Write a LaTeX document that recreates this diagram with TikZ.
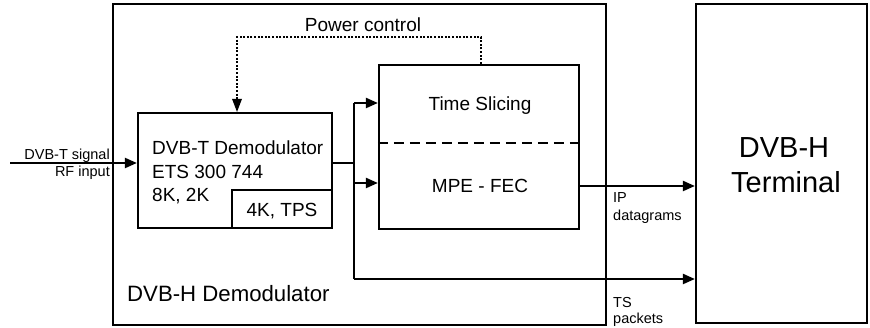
\documentclass[tikz,border=0pt]{standalone}
\usepackage{fontspec}
\setmainfont{Liberation Sans}
\usetikzlibrary{arrows.meta,calc}
\begin{document}
\begin{tikzpicture}[x=1pt,y=-1pt,
  box/.style={draw,line width=2.2pt,inner sep=0pt,minimum width=#1},
  txt/.style={inner sep=0pt,anchor=base west,font=\fontsize{19}{22}\selectfont},
  lbl/.style={inner sep=0pt,anchor=base west,font=\fontsize{22.2}{26}\selectfont},
  small/.style={inner sep=0pt,anchor=base west,font=\fontsize{14.5}{16}\selectfont},
  big/.style={inner sep=0pt,anchor=base,font=\fontsize{29}{34}\selectfont},
  wire/.style={line width=2.2pt},
  arr/.style={line width=2.2pt,-{Triangle[length=12pt,width=10pt]}},
  pc/.style={line width=2.4pt,dash pattern=on 2pt off 1.6pt},
  dsh/.style={line width=2.2pt,dash pattern=on 10pt off 6pt}]
\useasboundingbox (0,0) rectangle (870,328);
% boxes
\node[box=493pt,minimum height=321pt] (outer) at (359.5,164.5) {};
\node[box=194pt,minimum height=115pt] (demod) at (235,170.5) {};
\node[box=100pt,minimum height=38pt] (tps) at (282,209) {};
\node[box=200pt,minimum height=164pt] (ts) at (479,147) {};
\node[box=171pt,minimum height=319pt] (term) at (781.5,163.5) {};
% texts
\node[txt] (d1) at (152,155) {DVB-T Demodulator};
\node[txt] (d2) at (152,179) {ETS 300 744};
\node[txt] (d3) at (152,202) {8K, 2K};
\node[txt,anchor=base] (d4) at (282,217) {4K, TPS};
\node[txt,anchor=base] (tsl) at (480,111) {Time Slicing};
\node[txt,anchor=base] (mpe) at (480,193) {MPE - FEC};
\node[txt,anchor=base] (pctxt) at (363,32) {Power control};
\node[lbl] (outl) at (127,302) {DVB-H Demodulator};
\node[big] (t1) at (784,158) {DVB-H};
\node[big] (t2) at (786,193) {Terminal};
\node[small,anchor=base east] (in1) at (110,160) {DVB-T signal};
\node[small,anchor=base east] (in2) at (110,177) {RF input};
\node[small] (ip1) at (613,203) {IP};
\node[small] (ip2) at (613,221) {datagrams};
\node[small] (tsp1) at (613,308) {TS};
\node[small] (tsp2) at (613,324) {packets};
% dashed separator
\coordinate (sepL) at (379,143);
\coordinate (sepR) at (579,143);
\draw[dsh] (sepL -| ts.west) -- (sepR -| ts.east);
% connectors
\coordinate (inS) at (10,163);
\draw[arr] (inS) -- (inS -| demod.west);
\coordinate (br) at (354,163);
\coordinate (brT) at (354,103);
\coordinate (brM) at (354,183);
\coordinate (brB) at (354,279);
\draw[wire] (br -| demod.east) -- (br);
\draw[wire] (brT) -- (brB);
\draw[arr] (brT) -- (brT -| ts.west);
\draw[arr] (brM) -- (brM -| ts.west);
\draw[arr] (brB) -- (brB -| term.west);
\coordinate (ipy) at (579,186);
\draw[arr] (ipy -| ts.east) -- (ipy -| term.west);
% power control
\coordinate (pc1) at (481,37);
\coordinate (pc2) at (237,37);
\draw[pc] (pc1 |- ts.north) -- (pc1) -- (pc2) -- ($(pc2 |- demod.north)+(0,-12)$);
\fill ($(pc2 |- demod.north)+(0,-13)$) -- ++(5,0) -- (pc2 |- demod.north) -- ++(-5,-13) -- cycle;
\end{tikzpicture}
\end{document}
